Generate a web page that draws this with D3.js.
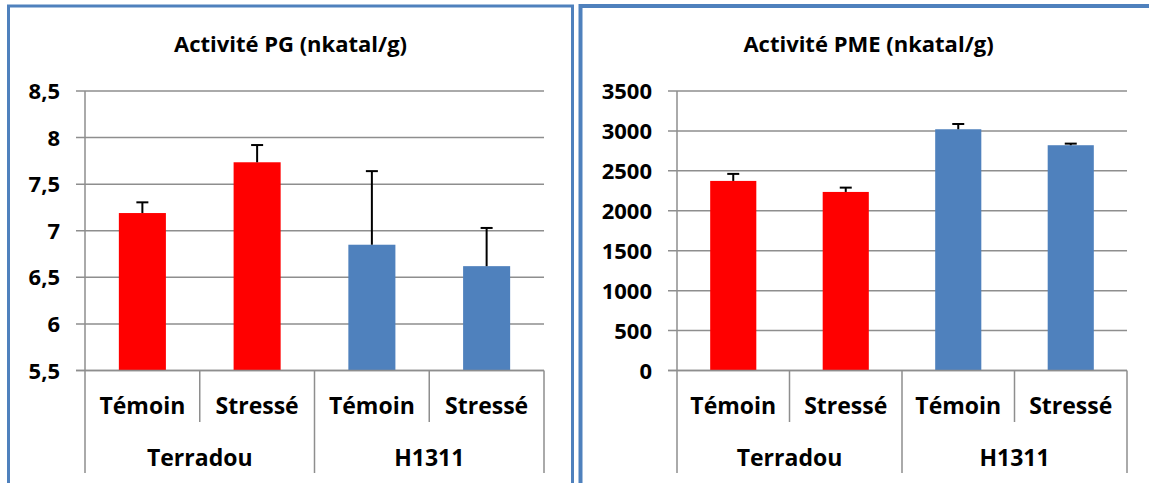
<!DOCTYPE html>
<html>
<head>
<meta charset="utf-8">
<script src="https://cdn.jsdelivr.net/npm/d3@7"></script>
<style>
  body { margin: 0; background: #fff; }
  svg text { font-family: "Open Sans", sans-serif; font-weight: 700; fill: #000; }
</style>
</head>
<body>
<svg id="chart" width="1149" height="483"></svg>
<script>
// data
const varieties = ["Terradou", "H1311"];
const treatments = ["Témoin", "Stressé"];
const barColors = ["#ff0000", "#4f81bd"];

const pgValues = [7.19, 7.735, 6.85, 6.62];
const pgErrors = [0.115, 0.185, 0.79, 0.41];
const pgTicks = [5.5, 6, 6.5, 7, 7.5, 8, 8.5];

const pmeValues = [2374, 2236, 3021, 2821];
const pmeErrors = [88, 54, 66, 20];
const pmeTicks = [0, 500, 1000, 1500, 2000, 2500, 3000, 3500];

const svg = d3.select("#chart");
const gridColor = "#8e8e8e";
const frameColor = "#4f81bd";

function drawPanel(opts) {
  // panel frame
  const g = svg.append("g");
  g.append("rect")
    .attr("x", opts.frame[0]).attr("y", opts.frame[1])
    .attr("width", opts.frame[2]).attr("height", opts.frame[3])
    .attr("fill", "none")
    .attr("stroke", frameColor)
    .attr("stroke-width", opts.frameWidth);

  // title
  g.append("text")
    .attr("x", opts.frame[0] + opts.frame[2] / 2)
    .attr("y", 52)
    .attr("text-anchor", "middle")
    .style("font-size", "22px")
    .text(opts.title);

  const x = d3.scaleBand()
    .domain(d3.range(opts.values.length))
    .range([opts.left, opts.right]);

  const y = d3.scaleLinear()
    .domain(d3.extent(opts.ticks))
    .range([370.5, 91]);

  // gridlines + tick labels
  g.selectAll(".grid")
    .data(opts.ticks)
    .enter().append("line")
    .attr("x1", opts.left - 9).attr("x2", opts.right)
    .attr("y1", d => y(d)).attr("y2", d => y(d))
    .attr("stroke", gridColor)
    .attr("stroke-width", 1.5);

  g.selectAll(".tick-label")
    .data(opts.ticks)
    .enter().append("text")
    .attr("x", opts.left - 25)
    .attr("y", d => y(d) + 8)
    .attr("text-anchor", "end")
    .style("font-size", "22px")
    .text(d => String(d).replace(".", ","));

  // y axis line
  g.append("line")
    .attr("x1", opts.left).attr("x2", opts.left)
    .attr("y1", 91).attr("y2", 370.5)
    .attr("stroke", gridColor).attr("stroke-width", 1.5);

  // bars
  const bw = x.bandwidth() * 0.41;
  g.selectAll(".bar")
    .data(opts.values)
    .enter().append("rect")
    .attr("x", (d, i) => x(i) + x.bandwidth() / 2 - bw / 2)
    .attr("y", d => y(d))
    .attr("width", bw)
    .attr("height", d => y(opts.ticks[0]) - y(d))
    .attr("fill", (d, i) => barColors[Math.floor(i / treatments.length)]);

  // error bars (upper only)
  const err = g.selectAll(".err")
    .data(opts.values)
    .enter().append("g");
  err.append("line")
    .attr("x1", (d, i) => x(i) + x.bandwidth() / 2)
    .attr("x2", (d, i) => x(i) + x.bandwidth() / 2)
    .attr("y1", d => y(d))
    .attr("y2", (d, i) => y(d + opts.errors[i]))
    .attr("stroke", "#000").attr("stroke-width", 2);
  err.append("line")
    .attr("x1", (d, i) => x(i) + x.bandwidth() / 2 - 6)
    .attr("x2", (d, i) => x(i) + x.bandwidth() / 2 + 6)
    .attr("y1", (d, i) => y(d + opts.errors[i]))
    .attr("y2", (d, i) => y(d + opts.errors[i]))
    .attr("stroke", "#000").attr("stroke-width", 2);

  // x axis line + category separators
  g.append("line")
    .attr("x1", opts.left - 9).attr("x2", opts.right)
    .attr("y1", 370.5).attr("y2", 370.5)
    .attr("stroke", gridColor).attr("stroke-width", 1.5);

  const seps = d3.range(opts.values.length + 1);
  g.selectAll(".sep")
    .data(seps)
    .enter().append("line")
    .attr("x1", i => opts.left + i * x.step())
    .attr("x2", i => opts.left + i * x.step())
    .attr("y1", 370.5)
    .attr("y2", i => i % treatments.length === 0 ? 473 : 422)
    .attr("stroke", gridColor).attr("stroke-width", 1.5);

  // treatment labels
  g.selectAll(".cat")
    .data(opts.values)
    .enter().append("text")
    .attr("x", (d, i) => x(i) + x.bandwidth() / 2)
    .attr("y", 414)
    .attr("text-anchor", "middle")
    .style("font-size", "23px")
    .text((d, i) => treatments[i % treatments.length]);

  // variety labels
  g.selectAll(".group")
    .data(varieties)
    .enter().append("text")
    .attr("x", (d, i) => opts.left + (i + 0.5) * treatments.length * x.step())
    .attr("y", 466)
    .attr("text-anchor", "middle")
    .style("font-size", "23px")
    .text(d => d);
}

drawPanel({
  title: "Activité PG (nkatal/g)",
  values: pgValues, errors: pgErrors, ticks: pgTicks,
  left: 85, right: 544,
  frame: [8.5, 6, 564, 500], frameWidth: 3
});

drawPanel({
  title: "Activité PME (nkatal/g)",
  values: pmeValues, errors: pmeErrors, ticks: pmeTicks,
  left: 677, right: 1127,
  frame: [580.5, 6, 576, 500], frameWidth: 4
});
</script>
</body>
</html>
